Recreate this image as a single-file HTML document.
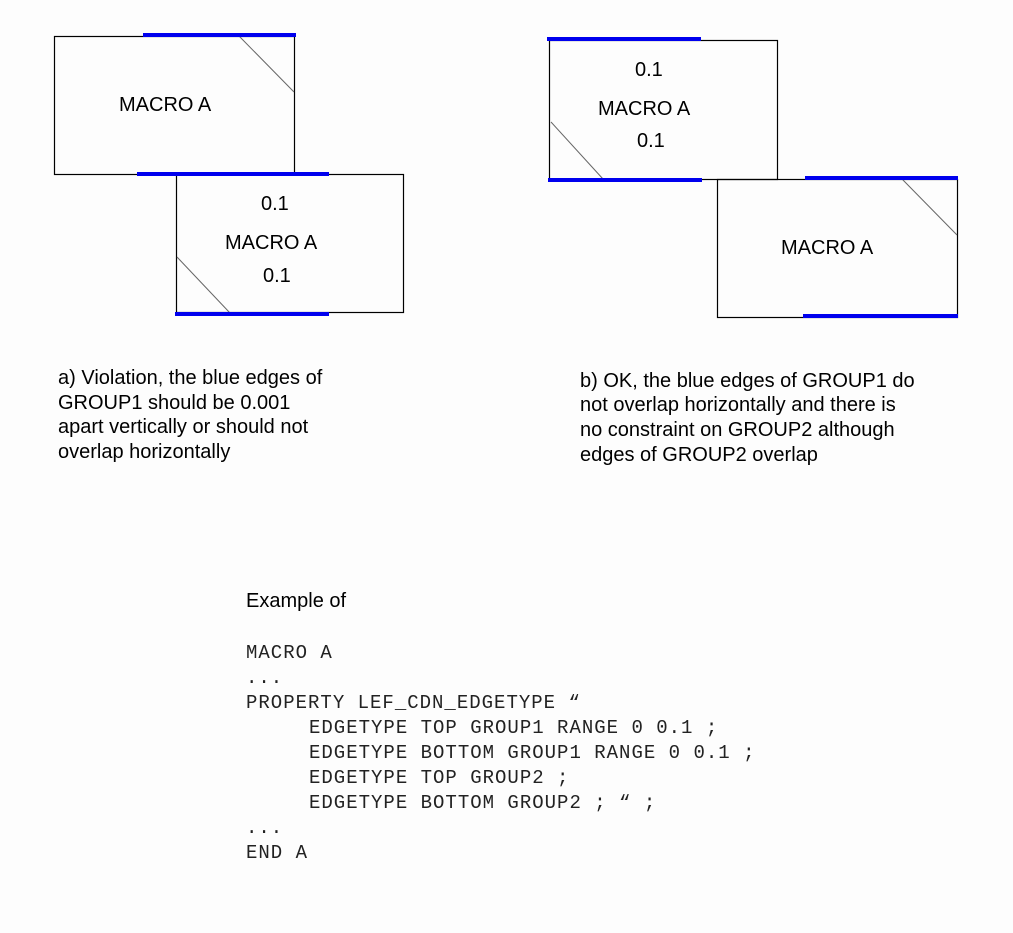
<!DOCTYPE html>
<html><head><meta charset="utf-8"><style>
html,body{margin:0;padding:0;background:#fdfdfd;}
svg{display:block}
.s{font-family:"Liberation Sans",sans-serif;font-size:20px;fill:#000}
.m{font-family:"Liberation Mono",monospace;font-size:19px;fill:#222;letter-spacing:1px;white-space:pre}
</style></head><body>
<svg width="1013" height="933" viewBox="0 0 1013 933" xmlns="http://www.w3.org/2000/svg">
<rect width="1013" height="933" fill="#fdfdfd"/>
<g fill="none" stroke="#000" stroke-width="1.2">
<rect x="54.5" y="36.5" width="240" height="138"/>
<rect x="176.5" y="174.5" width="227" height="138"/>
<rect x="549.5" y="40.5" width="228" height="139"/>
<rect x="717.5" y="179.5" width="240" height="138"/>
</g>
<g stroke="#666" stroke-width="1">
<line x1="239" y1="36" x2="294" y2="92"/>
<line x1="177" y1="257" x2="230" y2="313"/>
<line x1="551" y1="122" x2="603" y2="179"/>
<line x1="902" y1="179" x2="957" y2="235"/>
</g>
<g stroke="#0000ee" stroke-width="4">
<line x1="143" y1="35" x2="296" y2="35"/>
<line x1="137" y1="174" x2="329" y2="174"/>
<line x1="175" y1="314" x2="329" y2="314"/>
<line x1="547" y1="39" x2="701" y2="39"/>
<line x1="548" y1="180" x2="702" y2="180"/>
<line x1="805" y1="178" x2="958" y2="178"/>
<line x1="803" y1="316" x2="958" y2="316"/>
</g>
<text class="s" x="119" y="111">MACRO A</text>
<text class="s" x="261" y="210">0.1</text>
<text class="s" x="225" y="249">MACRO A</text>
<text class="s" x="263" y="282">0.1</text>
<text class="s" x="635" y="76">0.1</text>
<text class="s" x="598" y="115">MACRO A</text>
<text class="s" x="637" y="147">0.1</text>
<text class="s" x="781" y="254">MACRO A</text>
<text class="s" x="58" y="384">a) Violation, the blue edges of</text>
<text class="s" x="58" y="409">GROUP1 should be 0.001</text>
<text class="s" x="58" y="433">apart vertically or should not</text>
<text class="s" x="58" y="458">overlap horizontally</text>
<text class="s" x="580" y="387">b) OK, the blue edges of GROUP1 do</text>
<text class="s" x="580" y="411">not overlap horizontally and there is</text>
<text class="s" x="580" y="436">no constraint on GROUP2 although</text>
<text class="s" x="580" y="461">edges of GROUP2 overlap</text>
<text class="s" x="246" y="607">Example of</text>
<text class="m" x="246" y="658">MACRO A</text>
<text class="m" x="246" y="683">...</text>
<text class="m" x="246" y="708">PROPERTY LEF_CDN_EDGETYPE “</text>
<text class="m" x="309" y="733">EDGETYPE TOP GROUP1 RANGE 0 0.1 ;</text>
<text class="m" x="309" y="758">EDGETYPE BOTTOM GROUP1 RANGE 0 0.1 ;</text>
<text class="m" x="309" y="783">EDGETYPE TOP GROUP2 ;</text>
<text class="m" x="309" y="808">EDGETYPE BOTTOM GROUP2 ; “ ;</text>
<text class="m" x="246" y="833">...</text>
<text class="m" x="246" y="858">END A</text>
</svg>
</body></html>
